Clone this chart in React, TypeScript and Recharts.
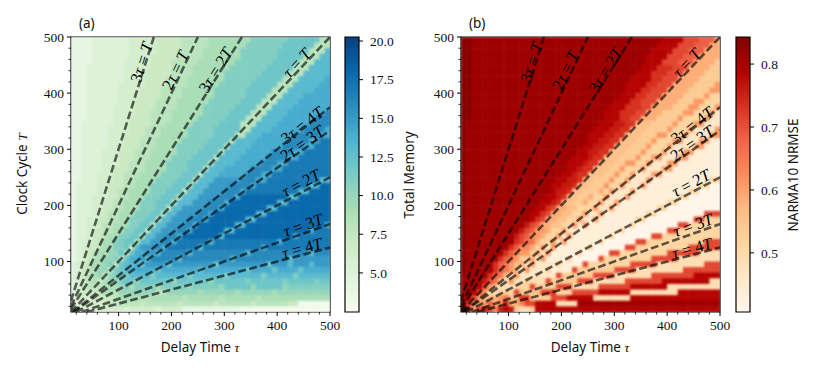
import React from 'react'
import { ReferenceArea, ReferenceDot, Scatter, ScatterChart, XAxis, YAxis } from 'recharts'

// heatmap rows, top row first. Each token is a level and the column where that run ends
// memory levels are base 36 digits of the total memory value
const memoryRows = [
    '44 511 616 721 826 934 b41 c47 850',
    '44 511 616 721 826 933 b40 c46 849',
    '44 511 616 720 825 932 b39 c45 848 d49',
    '44 511 615 720 825 932 b39 c44 847 d49',
    '44 510 615 719 824 931 b38 c43 846 d49',
    '43 510 615 719 823 930 b37 c42 845 d49',
    '43 510 614 719 823 929 b36 c41 844 d49',
    '43 510 614 718 822 929 b35 c40 843 d48 e49',
    '43 59 614 718 822 928 b34 c39 842 d47 e49',
    '43 59 613 717 821 927 b33 c38 841 d46 e49',
    '43 59 613 717 821 927 b33 c37 840 d44 e49',
    '43 59 612 716 820 926 b32 c36 839 d43 e49',
    '43 58 612 716 820 925 b31 c35 838 d42 e49',
    '43 58 612 715 819 925 b30 c34 837 d41 e48 g49',
    '43 58 611 715 819 924 b29 c33 836 d40 e46 g49',
    '42 58 611 715 818 923 b28 c32 835 d39 e45 g49',
    '42 57 611 714 817 922 b27 c32 834 d38 e44 g48 e49',
    '42 57 610 714 817 922 b27 c31 833 d36 e42 g47 e49',
    '42 57 610 713 816 921 b26 c30 831 d35 e41 g45 e47 h49',
    '42 57 610 713 816 920 b25 c29 830 d34 e40 g44 e46 h49',
    '42 56 69 712 815 920 b24 c28 829 d33 e38 g42 e44 h49',
    '42 56 69 712 815 919 b23 c27 828 d32 e37 g41 e43 h49',
    '42 56 69 711 814 918 b22 c26 827 d31 e36 g39 e41 h49',
    '42 56 68 711 814 918 b22 c25 826 d29 e34 g38 e40 h49',
    '42 55 68 710 813 917 b21 c24 825 d28 e33 g36 e38 h49',
    '42 55 68 710 812 916 b20 c23 824 d27 f32 g35 e37 h47 d49',
    '41 55 67 710 812 915 b19 c22 823 d26 f30 g34 e35 h45 d47 i49',
    '41 55 67 79 811 915 b18 c21 822 d25 f29 g32 e33 h43 d45 i49',
    '41 54 67 79 811 914 b17 c20 821 d24 f28 g31 e32 i41 d43 i49',
    '41 54 66 78 810 913 b16 c19 820 d23 f26 g29 e30 i39 d41 i49',
    '41 54 66 78 810 913 b16 c18 819 d21 f25 g28 e29 i37 d39 i49',
    '41 54 66 77 89 912 b15 c17 818 d20 f24 g26 e27 i35 d37 i49',
    '41 53 65 77 89 911 b14 c16 817 d19 f22 g25 e26 i33 d35 i49',
    '41 53 65 76 88 911 b13 c15 816 d18 f21 g23 e24 i31 d33 i48 e49',
    '41 53 64 76 88 910 b12 c14 815 d17 f20 g22 e23 i29 d31 i45 e46 h49',
    '41 53 64 76 87 99 b11 c13 814 d16 f18 g20 e21 i28 d29 i42 e43 h49',
    '41 52 64 75 86 98 b10 c12 813 d15 f17 g19 e20 h26 d27 h39 e40 h49',
    '41 52 63 75 86 98 b10 c11 812 d13 f16 g17 e18 h24 d25 h36 e37 h49',
    '41 52 63 74 85 97 a9 c10 811 c12 e14 f16 d17 g22 d23 g33 d34 g45 d46 g49',
    '41 52 63 74 85 96 a8 b9 810 c11 e13 f14 d15 g20 d21 g30 d31 g41 d42 f49',
    '51 62 73 84 96 a7 b8 89 c10 d12 e13 c14 f18 c19 f27 c28 f37 c38 f41 d42 f45 d46 f49',
    '51 62 73 84 95 a6 a7 88 b9 c10 d12 e16 c17 e24 c25 e33 c34 e38 c39 e43 c44 e49',
    '51 62 73 84 95 a6 77 a8 b9 c10 b11 d15 b16 d22 b23 d29 b30 d36 b37 d42 b43 d49',
    '51 62 73 84 95 76 97 a8 a9 b10 c12 a13 c19 a20 c26 a27 c33 b34 c40 b41 c46 b47 c49',
    '51 62 73 84 75 86 97 99 a10 b11 912 b16 917 b22 a23 b28 a29 c34 a35 c40 a41 b49',
    '51 62 73 64 75 86 98 89 a16 818 a24 925 a31 932 a38 939 a49',
    '51 52 63 54 65 76 78 89 914 815 921 822 928 829 935 836 949',
    '51 52 53 64 66 78 813 714 820 721 827 728 834 735 841 743 349',
    '51 52 43 54 55 610 511 616 517 621 432 349',
]

// NRMSE levels run from 0 (0.41) to h (0.835) in steps of 0.025
const nrmseRows = [
    'h2 g38 f42 c45 b48 749',
    'h2 g37 f41 c44 b47 749',
    'h2 g36 f40 c43 b46 749',
    'h2 g35 f39 c42 b45 749',
    'h2 g35 f38 c41 b44 748 549',
    'h2 g34 f37 d40 c43 747 549',
    'h2 g33 f36 d39 c42 746 549',
    'h2 g32 f36 d38 c41 745 549',
    'h2 g31 f35 d37 c40 744 548 849',
    'h2 g31 f34 d36 c39 743 547 849',
    'h2 g30 f33 d35 c38 742 546 847 449',
    'h2 g29 f32 d34 c37 741 544 846 449',
    'h2 g28 f31 d34 c36 740 543 845 448 849',
    'h2 g27 f30 d33 c35 738 542 844 447 848 249',
    'h2 g27 f30 d32 c34 737 541 842 446 847 249',
    'h1 g26 f29 e31 d33 636 540 841 444 846 249',
    'h1 g25 f28 e30 d32 635 539 840 443 844 248 849',
    'h1 g24 f27 e29 d31 634 537 839 442 843 247 849',
    'h1 g24 f26 e28 d30 633 536 837 440 842 245 847 149',
    'h1 g23 f25 e27 d29 632 535 836 439 840 244 846 149',
    'h1 g22 f24 e26 d28 631 534 835 438 839 242 844 149',
    'h1 g21 f24 e25 d27 630 533 834 436 838 241 843 149',
    'h1 g20 f23 e24 d26 629 531 833 435 836 239 841 149',
    'h1 g20 f22 e23 d25 628 530 831 434 835 238 840 149',
    'h1 g19 f21 e22 d24 627 529 830 432 833 236 838 149',
    'h1 g18 f20 e22 d23 625 528 829 431 832 235 836 147 449',
    'h1 g17 f19 e21 d22 624 527 828 430 831 234 835 145 447 049',
    'h1 g17 f18 e20 d21 623 526 727 428 829 232 833 143 445 049',
    'h1 g16 f18 e19 d20 622 524 725 427 828 231 832 141 443 049',
    'h1 g15 f17 e18 d19 621 523 724 426 827 229 830 139 441 049',
    'h1 g14 f16 d17 c18 720 622 425 826 228 829 137 439 049',
    'h1 g13 f15 d16 c17 719 621 423 824 226 827 135 437 046 c49',
    'h1 g13 f14 d15 c16 718 620 422 823 225 826 133 435 044 c46 449',
    'h1 g12 e13 c14 b15 717 619 421 822 223 824 132 433 041 c43 449',
    'h1 g11 e12 c13 b14 816 717 419 820 222 130 431 039 c41 449',
    'h1 g10 e11 c12 b13 815 716 418 819 220 821 128 429 036 c38 449',
    'h1 g10 d11 c12 a14 715 417 818 219 820 126 427 033 c35 446 c49',
    'h1 g9 d10 b11 913 714 415 816 217 818 124 425 031 c33 443 c49',
    'h1 g8 d9 b10 911 813 514 715 316 817 122 423 028 c30 439 c45 349',
    'h1 g7 d8 b9 a10 811 513 714 315 816 120 421 026 c27 436 c41 349',
    'h1 g6 d7 b8 a9 810 611 712 313 814 218 419 123 c24 432 c37 346 c49',
    'h1 g6 d7 b8 a9 810 611 312 813 216 417 121 c22 529 c33 342 c49',
    'g5 d6 b7 a8 69 310 811 214 415 218 c19 525 c29 336 c44 f49',
    'g4 e5 c6 a7 68 39 810 312 513 316 c17 522 c25 331 c38 f47 349',
    'g3 f4 c5 86 67 310 413 c14 518 c21 326 c32 f39 349',
    'g2 f3 c4 85 46 37 48 59 410 c11 612 513 615 c17 d18 421 c26 f32 341 f49',
    'g1 f2 c3 84 66 77 88 a9 610 711 d13 517 c20 f25 332 f49',
    'f1 d2 83 74 85 b6 77 98 e9 610 711 912 c14 f18 322 g49',
    'h1 b2 83 c4 e5 c6 97 e8 f9 e10 511 313 514 f49',
]

const delayCentres = [
    15, 25, 35, 45, 55, 65, 75, 85, 95, 105, 115, 125, 135, 145, 155, 165, 175, 185, 195, 205, 215, 225, 235, 245, 255,
    265, 275, 285, 295, 305, 315, 325, 335, 345, 355, 365, 375, 385, 395, 405, 415, 425, 435, 445, 455, 465, 475, 485, 495,
]
const clockCentres = [...delayCentres].reverse()

const axisTicks = [20, 40, 60, 80, 100, 120, 140, 160, 180, 200, 220, 240, 260, 280, 300, 320, 340, 360, 380, 400, 420, 440, 460, 480, 500]
const memoryTicks = [5, 7.5, 10, 12.5, 15, 17.5, 20]
const nrmseTicks = [0.5, 0.6, 0.7, 0.8]

// T = slope * tau, label anchored at (labelTau, labelClock), angle on screen
const rays = [
    { angle: -72, label: '3τ = T', labelClock: 455, labelTau: 143, slope: 3 },
    { angle: -64, label: '2τ = T', labelClock: 441, labelTau: 207, slope: 2 },
    { angle: -58, label: '3τ = 2T', labelClock: 441, labelTau: 283, slope: 1.5 },
    { angle: -47, label: 'τ = T', labelClock: 454, labelTau: 437, slope: 1 },
    { angle: -38, label: '3τ = 4T', labelClock: 343, labelTau: 447, slope: 0.75 },
    { angle: -35, label: '2τ = 3T', labelClock: 311, labelTau: 447, slope: 2 / 3 },
    { angle: -28, label: 'τ = 2T', labelClock: 240, labelTau: 445, slope: 0.5 },
    { angle: -19.5, label: 'τ = 3T', labelClock: 165, labelTau: 449, slope: 1 / 3 },
    { angle: -15, label: 'τ = 4T', labelClock: 124, labelTau: 447, slope: 0.25 },
]

const gnBu = ['#f7fcf0', '#e0f3db', '#ccebc5', '#a8ddb5', '#7bccc4', '#4eb3d3', '#2b8cbe', '#0868ac', '#084081']
const orRd = ['#fff7ec', '#fee8c8', '#fdd49e', '#fdbb84', '#fc8d59', '#ef6548', '#d7301f', '#b30000', '#7f0000']

const memoryDomain: [number, number] = [2.47, 20.26]
const nrmseDomain: [number, number] = [0.406, 0.843]

const serif = '"Liberation Serif", serif'
const sans = '"Noto Sans", sans-serif'
const plotWidth = 258.5
const plotHeight = 275

const colourAt = (palette: string[], domain: [number, number], value: number) => {
    const t = Math.min(1, Math.max(0, (value - domain[0]) / (domain[1] - domain[0]))) * (palette.length - 1)
    const low = Math.floor(t)
    const high = Math.min(palette.length - 1, low + 1)
    const mix = (i: number) => {
        const a = parseInt(palette[low].slice(i, i + 2), 16)
        const b = parseInt(palette[high].slice(i, i + 2), 16)
        return Math.round(a + (b - a) * (t - low))
    }
    return `rgb(${mix(1)},${mix(3)},${mix(5)})`
}

const expandRow = (row: string) => {
    const out: number[] = []
    row.split(' ').forEach((token) => {
        const end = Math.min(49, Number(token.slice(1)))
        while (out.length < end) out.push(parseInt(token[0], 36))
    })
    return out
}

const buildCells = (rows: string[], toValue: (level: number) => number) =>
    rows.flatMap((row, r) => expandRow(row).map((level, c) => ({ clock: clockCentres[r], delay: delayCentres[c], value: toValue(level) })))

const memoryCells = buildCells(memoryRows, (level) => level)
const nrmseCells = buildCells(nrmseRows, (level) => 0.41 + level * 0.025)

const XTick = ({ x, y, payload }: any) => {
    const major = payload.value % 100 === 0
    return (
        <g>
            <line stroke="#000" strokeWidth={major ? 1 : 0.8} x1={x} x2={x} y1={y} y2={y + (major ? 4 : 2.5)} />
            {major && (
                <text fill="#111" fontFamily={serif} fontSize={13.5} textAnchor="middle" x={x} y={y + 18}>
                    {payload.value}
                </text>
            )}
        </g>
    )
}

const YTick = ({ x, y, payload }: any) => {
    const major = payload.value % 100 === 0
    return (
        <g>
            <line stroke="#000" strokeWidth={major ? 1 : 0.8} x1={x - (major ? 4 : 2.5)} x2={x} y1={y} y2={y} />
            {major && (
                <text dy="0.35em" fill="#111" fontFamily={serif} fontSize={13.5} textAnchor="end" x={x - 7} y={y}>
                    {payload.value}
                </text>
            )}
        </g>
    )
}

const ColourTick = ({ x, y, payload, digits }: any) => (
    <g>
        <line stroke="#000" x1={x} x2={x + 4} y1={y} y2={y} />
        <text dy="0.35em" fill="#111" fontFamily={serif} fontSize={13.5} x={x + 11} y={y}>
            {payload.value.toFixed(digits)}
        </text>
    </g>
)

const RayLabel = ({ cx, cy, text, angle }: any) => (
    <text
        dy="0.35em"
        fill="#000"
        fontFamily={serif}
        fontSize={16.5}
        textAnchor="middle"
        transform={`rotate(${angle} ${cx} ${cy})`}
        x={cx}
        y={cy}
    >
        {text.split(/(τ|T)/).map((part: string, i: number) =>
            part === 'τ' || part === 'T' ? (
                <tspan fontStyle="italic" key={i}>
                    {part}
                </tspan>
            ) : (
                part
            ),
        )}
    </text>
)

const HeatPanel = ({ cells, palette, domain, left }: any) => {
    const cellW = plotWidth / 49
    const cellH = plotHeight / 49
    return (
        <div style={{ left, position: 'absolute', top: 0 }}>
            <ScatterChart height={374} margin={{ bottom: 32, left: 31, right: 11, top: 37 }} width={341}>
                <XAxis
                    allowDataOverflow
                    axisLine={false}
                    dataKey="delay"
                    domain={[10, 500]}
                    height={30}
                    interval={0}
                    tick={<XTick />}
                    tickLine={false}
                    tickMargin={0}
                    tickSize={0}
                    ticks={axisTicks}
                    type="number"
                />
                <YAxis
                    allowDataOverflow
                    axisLine={false}
                    dataKey="clock"
                    domain={[10, 500]}
                    interval={0}
                    tick={<YTick />}
                    tickLine={false}
                    tickMargin={0}
                    tickSize={0}
                    ticks={axisTicks}
                    type="number"
                    width={40}
                />
                <Scatter
                    className="heat-cells"
                    data={cells}
                    isAnimationActive={false}
                    shape={(p: any) => (
                        <rect
                            fill={colourAt(palette, domain, p.payload.value)}
                            height={cellH + 0.5}
                            width={cellW + 0.5}
                            x={p.cx - cellW / 2}
                            y={p.cy - cellH / 2}
                        />
                    )}
                />
                {rays.map((ray) => (
                    <Scatter
                        data={[
                            { clock: Math.max(10, 10 * ray.slope), delay: Math.max(10, 10 / ray.slope) },
                            { clock: Math.min(500, 500 * ray.slope), delay: Math.min(500, 500 / ray.slope) },
                        ]}
                        isAnimationActive={false}
                        key={ray.label}
                        line={{ stroke: '#000', strokeDasharray: '7.8 3.4', strokeOpacity: 0.62, strokeWidth: 2.6 }}
                        shape={() => <g />}
                    />
                ))}
                {rays.map((ray) => (
                    <ReferenceDot
                        ifOverflow="visible"
                        key={`label-${ray.label}`}
                        r={0}
                        shape={(p: any) => <RayLabel angle={ray.angle} cx={p.cx} cy={p.cy} text={ray.label} />}
                        x={ray.labelTau}
                        y={ray.labelClock}
                    />
                ))}
                <ReferenceArea fill="none" ifOverflow="visible" stroke="#000" strokeWidth={1.2} x1={10} x2={500} y1={10} y2={500} />
            </ScatterChart>
        </div>
    )
}

const ColourBar = ({ id, palette, domain, ticks, digits, left }: any) => (
    <div style={{ left, position: 'absolute', top: 0 }}>
        <ScatterChart height={374} margin={{ bottom: 62, left: 15, right: 0, top: 37 }} width={70}>
            <defs>
                <linearGradient id={id} x1="0" x2="0" y1="1" y2="0">
                    {palette.map((c: string, i: number) => (
                        <stop key={c} offset={i / (palette.length - 1)} stopColor={c} />
                    ))}
                </linearGradient>
            </defs>
            <XAxis dataKey="x" domain={[0, 1]} hide type="number" />
            <YAxis
                allowDataOverflow
                axisLine={false}
                dataKey="y"
                domain={domain}
                interval={0}
                orientation="right"
                tick={<ColourTick digits={digits} />}
                tickLine={false}
                tickMargin={0}
                tickSize={0}
                ticks={ticks}
                type="number"
                width={41}
            />
            <Scatter data={ticks.map((y: number) => ({ x: 0, y }))} isAnimationActive={false} shape={() => <g />} />
            <ReferenceArea fill={`url(#${id})`} fillOpacity={1} ifOverflow="visible" stroke="#000" strokeWidth={1.2} x1={0} x2={1} y1={domain[0]} y2={domain[1]} />
        </ScatterChart>
    </div>
)

const Titles = () => (
    <svg height={374} style={{ left: 0, pointerEvents: 'none', position: 'absolute', top: 0 }} width={831}>
        <defs>
            <filter colorInterpolationFilters="sRGB" height="1" id="heat-smooth" width="1" x="0" y="0">
                <feGaussianBlur edgeMode="duplicate" stdDeviation="0.85" />
            </filter>
        </defs>
        <g fill="#111" fontFamily={sans} fontSize={13.5}>
            <text x={79} y={28}>(a)</text>
            <text x={469} y={28}>(b)</text>
            <text textAnchor="middle" x={200} y={352}>
                Delay Time <tspan fontFamily={serif} fontStyle="italic">τ</tspan>
            </text>
            <text textAnchor="middle" x={590} y={352}>
                Delay Time <tspan fontFamily={serif} fontStyle="italic">τ</tspan>
            </text>
            <text textAnchor="middle" transform="rotate(-90 27 174)" x={27} y={174}>
                Clock Cycle <tspan fontFamily={serif} fontStyle="italic">T</tspan>
            </text>
            <text textAnchor="middle" transform="rotate(-90 414 175)" x={414} y={175}>
                Total Memory
            </text>
            <text textAnchor="middle" transform="rotate(-90 798 175)" x={798} y={175}>
                NARMA10 NRMSE
            </text>
        </g>
    </svg>
)

const App = () => (
    <div style={{ background: '#fff', height: 374, left: 0, overflow: 'hidden', position: 'absolute', top: 0, width: 831 }}>
        <style>{'.heat-cells { filter: url(#heat-smooth); }'}</style>
        <HeatPanel cells={memoryCells} domain={memoryDomain} left={0} palette={gnBu} />
        <ColourBar digits={1} domain={memoryDomain} id="memory-bar" left={330} palette={gnBu} ticks={memoryTicks} />
        <HeatPanel cells={nrmseCells} domain={nrmseDomain} left={390} palette={orRd} />
        <ColourBar digits={1} domain={nrmseDomain} id="nrmse-bar" left={721} palette={orRd} ticks={nrmseTicks} />
        <Titles />
    </div>
)

export default App
